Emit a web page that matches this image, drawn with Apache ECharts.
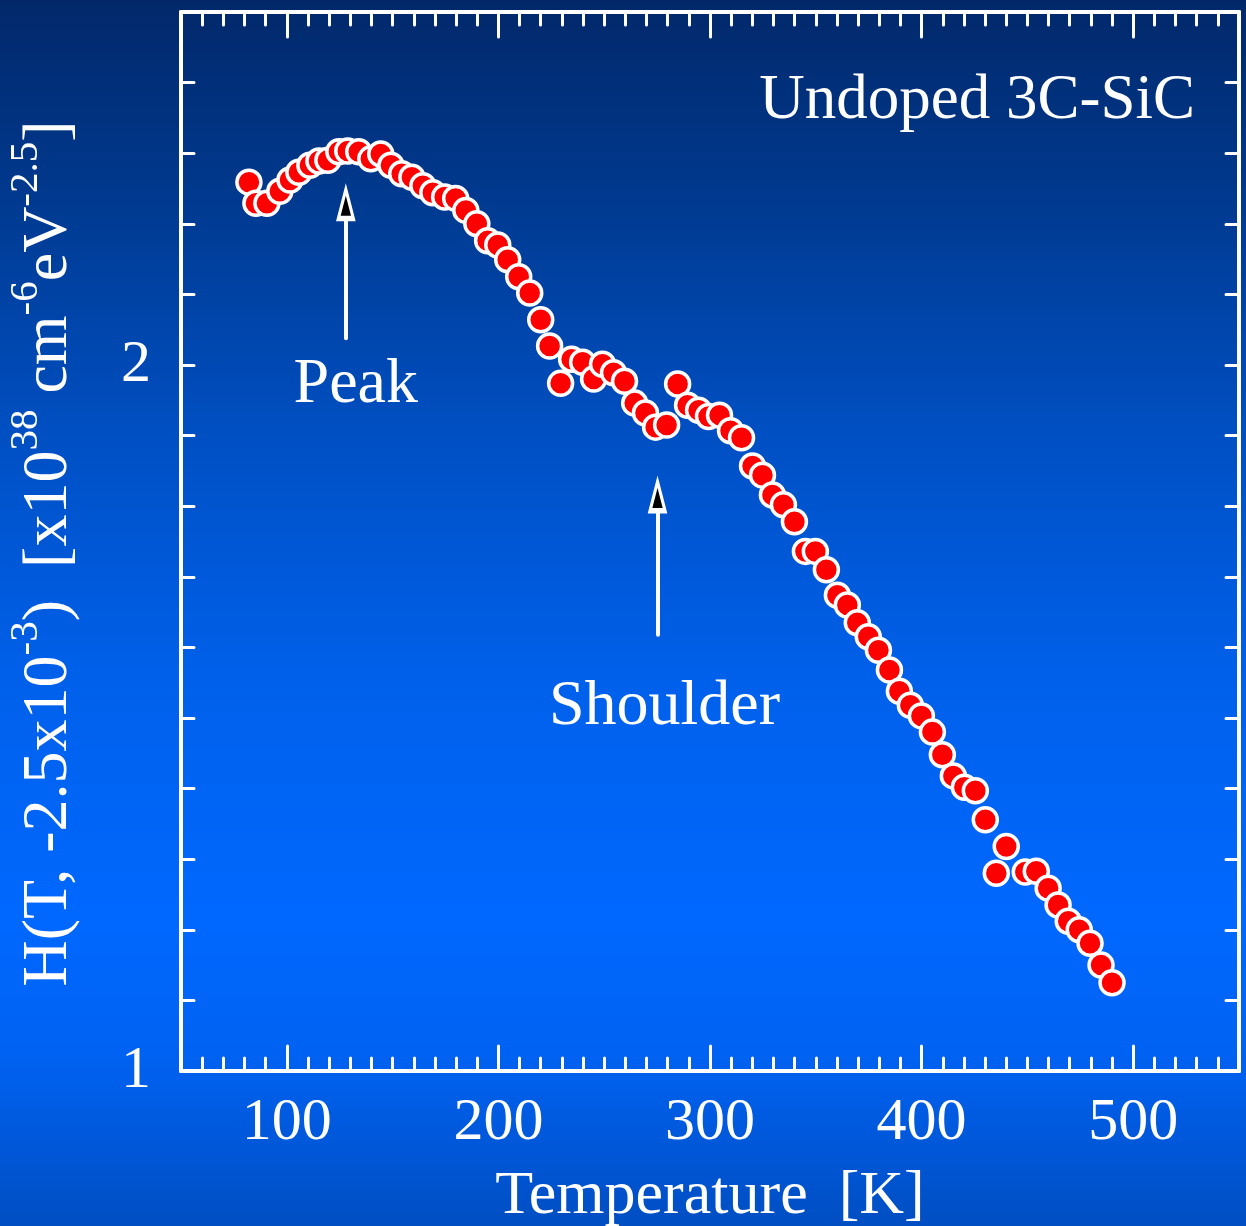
<!DOCTYPE html>
<html>
<head>
<meta charset="utf-8">
<script src="https://cdn.jsdelivr.net/npm/echarts@6/dist/echarts.min.js"></script>
<style>
  html, body { margin: 0; padding: 0; background: #0050c8; }
  #chart { width: 1246px; height: 1226px; }
</style>
</head>
<body>
<div id="chart"></div>
<script>
// temperature [K]
const temps = [82.1, 85.4, 90.6, 96.7, 101.5, 105.7, 110.9, 115.2, 119.4, 124.6,
  128.8, 134.0, 139.7, 144.4, 149.2, 154.3, 159.1, 164.3, 169.0, 174.6,
  179.8, 184.6, 189.8, 194.9, 199.7, 204.4, 209.6, 214.8, 220.0, 224.2,
  229.4, 234.6, 239.8, 245.0, 249.2, 254.4, 259.6, 264.4, 269.5, 274.3,
  279.5, 284.7, 289.4, 294.6, 299.3, 304.5, 309.7, 314.9, 320.1, 324.8,
  329.5, 334.7, 339.9, 345.1, 349.8, 355.0, 360.2, 364.9, 369.6, 374.8,
  379.6, 384.8, 389.5, 394.7, 399.9, 405.1, 409.8, 415.0, 420.2, 425.4,
  430.1, 435.3, 440.0, 449.0, 454.2, 459.8, 464.5, 469.3, 474.5, 479.6,
  484.8, 490.0];
// H(T, -2.5e-3) [x1e38 cm^-6 eV^-2.5]
const hValues = [2.259, 2.229, 2.229, 2.246, 2.262, 2.273, 2.283, 2.289, 2.290, 2.302,
  2.303, 2.302, 2.292, 2.299, 2.283, 2.271, 2.266, 2.254, 2.244, 2.238,
  2.236, 2.219, 2.200, 2.176, 2.170, 2.149, 2.125, 2.102, 2.064, 2.027,
  1.974, 2.008, 2.004, 1.980, 2.001, 1.989, 1.977, 1.946, 1.932, 1.912,
  1.915, 1.973, 1.943, 1.936, 1.927, 1.929, 1.907, 1.897, 1.857, 1.844,
  1.816, 1.802, 1.778, 1.736, 1.736, 1.710, 1.674, 1.660, 1.635, 1.615,
  1.596, 1.568, 1.538, 1.518, 1.503, 1.480, 1.448, 1.418, 1.402, 1.397,
  1.356, 1.280, 1.318, 1.282, 1.283, 1.259, 1.235, 1.212, 1.200, 1.181,
  1.150, 1.125];

const xMajorTicks = [100, 200, 300, 400, 500];
const yLabelTicks = [1, 2];

// annotations: [temperature, value]
const peakArrow = { x: 127.9, from: 2.038, to: 2.205, head: 2.228 };
const shoulderArrow = { x: 275.2, from: 1.618, to: 1.792, head: 1.814 };
const peakText = [132.6, 1.972];
const shoulderText = [278.5, 1.516];

const FONT = '"Liberation Serif", "Times New Roman", serif';

const points = temps.map((t, i) => [t, hValues[i]]);

const chart = echarts.init(document.getElementById('chart'));

const tickStyle = { color: '#fff', width: 3, cap: 'round' };

const xBase = { type: 'value', min: 50, max: 550, gridIndex: 0, splitLine: { show: false } };
const yBase = { type: 'value', min: 1, max: 2.5, gridIndex: 0, splitLine: { show: false } };

const option = {
  backgroundColor: {
    type: 'linear', x: 0, y: 0, x2: 0, y2: 1,
    colorStops: [
      { offset: 0, color: '#02286a' },
      { offset: 0.15, color: '#00388c' },
      { offset: 0.35, color: '#004fc2' },
      { offset: 0.55, color: '#0060ea' },
      { offset: 0.75, color: '#0068ff' },
      { offset: 0.86, color: '#0062f2' },
      { offset: 1, color: '#004ec2' }
    ]
  },
  animation: false,
  title: {
    text: 'Undoped 3C-SiC',
    right: 51,
    top: 70,
    padding: 0,
    textStyle: { color: '#fff', fontSize: 63, fontWeight: 'normal', fontFamily: FONT }
  },
  grid: { left: 181, top: 12, width: 1058, height: 1059, outerBoundsMode: 'none', containLabel: false },
  xAxis: [
    Object.assign({}, xBase, {
      position: 'bottom',
      interval: 10,
      axisLine: { show: true, lineStyle: { color: '#fff', width: 4 } },
      axisTick: { show: true, inside: true, length: 13, lineStyle: tickStyle },
      axisLabel: { show: false },
      name: 'Temperature  [K]',
      nameLocation: 'middle',
      nameGap: 95,
      nameTextStyle: { color: '#fff', fontSize: 62, fontFamily: FONT }
    }),
    Object.assign({}, xBase, {
      position: 'bottom',
      axisLine: { show: false },
      axisTick: { show: true, inside: true, length: 25, lineStyle: tickStyle, customValues: xMajorTicks },
      axisLabel: { show: true, color: '#fff', fontSize: 60, fontFamily: FONT, margin: 22, customValues: xMajorTicks }
    }),
    Object.assign({}, xBase, {
      position: 'top',
      interval: 10,
      axisLine: { show: true, lineStyle: { color: '#fff', width: 4 } },
      axisTick: { show: true, inside: true, length: 13, lineStyle: tickStyle },
      axisLabel: { show: false }
    }),
    Object.assign({}, xBase, {
      position: 'top',
      axisLine: { show: false },
      axisTick: { show: true, inside: true, length: 25, lineStyle: tickStyle, customValues: xMajorTicks },
      axisLabel: { show: false }
    })
  ],
  yAxis: [
    Object.assign({}, yBase, {
      position: 'left',
      interval: 0.1,
      axisLine: { show: true, lineStyle: { color: '#fff', width: 4 } },
      axisTick: { show: true, inside: true, length: 13, lineStyle: tickStyle },
      axisLabel: { show: true, color: '#fff', fontSize: 60, fontFamily: FONT, margin: 30, customValues: yLabelTicks },
      name: 'H(T, -2.5x10{sup|-3})  [x10{sup|38} cm{sup|-6}eV{sup|-2.5}]',
      nameLocation: 'middle',
      nameGap: 89,
      nameTextStyle: {
        color: '#fff', fontSize: 64, fontFamily: FONT, lineHeight: 86,
        padding: [0, 24, 0, 0],
        rich: {
          sup: { color: '#fff', fontSize: 41, fontFamily: FONT, lineHeight: 41, verticalAlign: 'top' }
        }
      }
    }),
    Object.assign({}, yBase, {
      position: 'right',
      interval: 0.1,
      axisLine: { show: true, lineStyle: { color: '#fff', width: 4 } },
      axisTick: { show: true, inside: true, length: 13, lineStyle: tickStyle },
      axisLabel: { show: false }
    })
  ],
  series: [
    {
      type: 'scatter',
      xAxisIndex: 0,
      yAxisIndex: 0,
      data: points,
      symbol: 'circle',
      symbolSize: 24,
      itemStyle: { color: '#ff0000', borderColor: '#fff', borderWidth: 3.5, opacity: 1 },
      emphasis: { disabled: true },
      markLine: {
        silent: true,
        symbol: ['none', 'none'],
        label: { show: false },
        lineStyle: { color: '#fff', width: 4, type: 'solid', cap: 'round' },
        data: [
          [{ coord: [peakArrow.x, peakArrow.from] }, { coord: [peakArrow.x, peakArrow.to] }],
          [{ coord: [shoulderArrow.x, shoulderArrow.from] }, { coord: [shoulderArrow.x, shoulderArrow.to] }]
        ]
      },
      markPoint: {
        silent: true,
        data: [
          {
            coord: [peakArrow.x, peakArrow.head], symbol: 'triangle', symbolSize: [15, 29],
            itemStyle: { color: '#000', borderColor: '#fff', borderWidth: 4 }, label: { show: false }
          },
          {
            coord: [shoulderArrow.x, shoulderArrow.head], symbol: 'triangle', symbolSize: [15, 29],
            itemStyle: { color: '#000', borderColor: '#fff', borderWidth: 4 }, label: { show: false }
          },
          {
            coord: peakText, symbol: 'circle', symbolSize: 0,
            label: { show: true, position: 'inside', formatter: 'Peak', color: '#fff', fontSize: 64, fontFamily: FONT }
          },
          {
            coord: shoulderText, symbol: 'circle', symbolSize: 0,
            label: { show: true, position: 'inside', formatter: 'Shoulder', color: '#fff', fontSize: 64, fontFamily: FONT }
          }
        ]
      }
    }
  ]
};

chart.setOption(option);
</script>
</body>
</html>
